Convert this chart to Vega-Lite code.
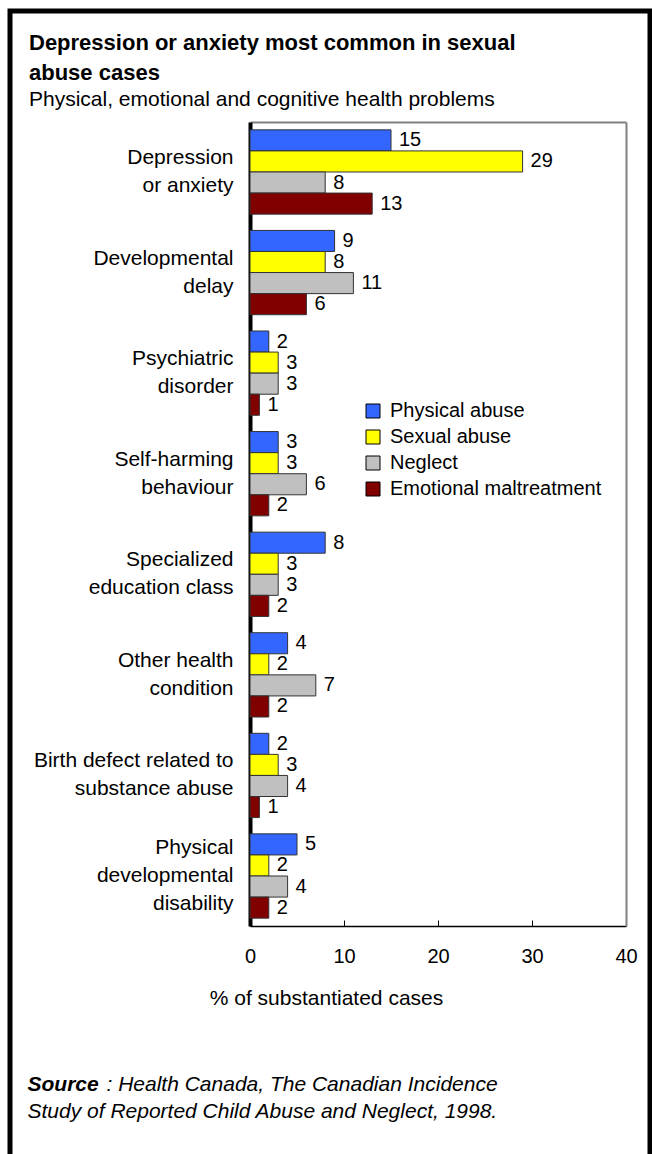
{
  "$schema": "https://vega.github.io/schema/vega-lite/v6.json",
  "width": 640,
  "height": 1150,
  "autosize": {"type": "none"},
  "padding": {"left": 10, "top": 11, "right": 2, "bottom": 0},
  "background": "white",
  "config": {
    "font": "Liberation Sans",
    "view": {"stroke": "black", "strokeWidth": 5}
  },
  "title": {
    "text": ["Depression or anxiety most common in sexual", "abuse cases"],
    "subtitle": "Physical, emotional and cognitive health problems",
    "anchor": "start",
    "frame": "group",
    "offset": -100,
    "dx": 19,
    "fontSize": 22,
    "fontWeight": "bold",
    "lineHeight": 30,
    "color": "black",
    "subtitleFontSize": 21,
    "subtitleColor": "black",
    "subtitlePadding": 4
  },
  "data": {
    "values": [
      {"problem": "Depression|or anxiety", "type": "Physical abuse", "pct": 15},
      {"problem": "Depression|or anxiety", "type": "Sexual abuse", "pct": 29},
      {"problem": "Depression|or anxiety", "type": "Neglect", "pct": 8},
      {"problem": "Depression|or anxiety", "type": "Emotional maltreatment", "pct": 13},
      {"problem": "Developmental|delay", "type": "Physical abuse", "pct": 9},
      {"problem": "Developmental|delay", "type": "Sexual abuse", "pct": 8},
      {"problem": "Developmental|delay", "type": "Neglect", "pct": 11},
      {"problem": "Developmental|delay", "type": "Emotional maltreatment", "pct": 6},
      {"problem": "Psychiatric|disorder", "type": "Physical abuse", "pct": 2},
      {"problem": "Psychiatric|disorder", "type": "Sexual abuse", "pct": 3},
      {"problem": "Psychiatric|disorder", "type": "Neglect", "pct": 3},
      {"problem": "Psychiatric|disorder", "type": "Emotional maltreatment", "pct": 1},
      {"problem": "Self-harming|behaviour", "type": "Physical abuse", "pct": 3},
      {"problem": "Self-harming|behaviour", "type": "Sexual abuse", "pct": 3},
      {"problem": "Self-harming|behaviour", "type": "Neglect", "pct": 6},
      {"problem": "Self-harming|behaviour", "type": "Emotional maltreatment", "pct": 2},
      {"problem": "Specialized|education class", "type": "Physical abuse", "pct": 8},
      {"problem": "Specialized|education class", "type": "Sexual abuse", "pct": 3},
      {"problem": "Specialized|education class", "type": "Neglect", "pct": 3},
      {"problem": "Specialized|education class", "type": "Emotional maltreatment", "pct": 2},
      {"problem": "Other health|condition", "type": "Physical abuse", "pct": 4},
      {"problem": "Other health|condition", "type": "Sexual abuse", "pct": 2},
      {"problem": "Other health|condition", "type": "Neglect", "pct": 7},
      {"problem": "Other health|condition", "type": "Emotional maltreatment", "pct": 2},
      {"problem": "Birth defect related to|substance abuse", "type": "Physical abuse", "pct": 2},
      {"problem": "Birth defect related to|substance abuse", "type": "Sexual abuse", "pct": 3},
      {"problem": "Birth defect related to|substance abuse", "type": "Neglect", "pct": 4},
      {"problem": "Birth defect related to|substance abuse", "type": "Emotional maltreatment", "pct": 1},
      {"problem": "Physical|developmental|disability", "type": "Physical abuse", "pct": 5},
      {"problem": "Physical|developmental|disability", "type": "Sexual abuse", "pct": 2},
      {"problem": "Physical|developmental|disability", "type": "Neglect", "pct": 4},
      {"problem": "Physical|developmental|disability", "type": "Emotional maltreatment", "pct": 2}
    ]
  },
  "layer": [
    {
      "mark": {"type": "bar", "stroke": "#333333", "strokeWidth": 1},
      "encoding": {
        "y": {
          "field": "problem", "type": "nominal", "sort": null,
          "scale": {"range": [111, 915], "paddingInner": 0.162, "paddingOuter": 0.078},
          "axis": {
            "orient": "left", "offset": -240,
            "domainColor": "black", "domainWidth": 4,
            "ticks": false,
            "labelExpr": "split(datum.label, '|')",
            "labelFontSize": 21, "labelColor": "black", "labelLineHeight": 28,
            "labelPadding": 17, "labelLimit": 300, "labelAlign": "right", "labelBaseline": "middle",
            "labelOffset": {"condition": {"test": "datum.value === 'Physical|developmental|disability'", "value": -28}, "value": -14},
            "title": "Study of Reported Child Abuse and Neglect, 1998.",
            "titleAngle": 0, "titleX": -223, "titleY": 1100, "titleAlign": "left", "titleBaseline": "middle",
            "titleFontStyle": "italic", "titleFontWeight": "normal", "titleFontSize": 21, "titleColor": "black"
          }
        },
        "yOffset": {
          "field": "type", "type": "nominal",
          "sort": ["Physical abuse", "Sexual abuse", "Neglect", "Emotional maltreatment"],
          "scale": {"paddingInner": 0, "paddingOuter": 0}
        },
        "x": {
          "field": "pct", "type": "quantitative",
          "scale": {"domain": [0, 40], "range": [240, 616], "nice": false},
          "axis": {
            "orient": "bottom", "offset": -235,
            "values": [0, 10, 20, 30, 40],
            "domainColor": "black", "domainWidth": 1.5,
            "tickColor": "black", "tickSize": -6, "tickWidth": 1,
            "labelFontSize": 20, "labelColor": "black", "labelPadding": 26, "labelFlush": false,
            "grid": false,
            "title": "% of substantiated cases",
            "titleX": 316, "titleY": 72, "titleAlign": "center", "titleBaseline": "middle",
            "titleFontSize": 21, "titleFontWeight": "normal", "titleColor": "black"
          }
        },
        "color": {
          "field": "type", "type": "nominal",
          "scale": {
            "domain": ["Physical abuse", "Sexual abuse", "Neglect", "Emotional maltreatment"],
            "range": ["#3366FF", "#FFFF00", "#C0C0C0", "#800000"]
          },
          "legend": {
            "orient": "none", "legendX": 353, "legendY": 390,
            "title": null, "padding": 0,
            "symbolType": "square", "symbolSize": 196,
            "symbolStrokeColor": "black", "symbolStrokeWidth": 1,
            "labelFontSize": 20, "labelColor": "black", "labelOffset": 7,
            "rowPadding": 6, "labelLimit": 300
          }
        }
      }
    },
    {
      "mark": {"type": "text", "align": "left", "baseline": "middle", "dx": 8, "fontSize": 20, "color": "black"},
      "encoding": {
        "y": {
          "field": "problem", "type": "nominal", "sort": null,
          "axis": {
            "orient": "right", "offset": -24,
            "domainColor": "#808080", "domainWidth": 2,
            "ticks": false, "labels": false,
            "title": ": Health Canada, The Canadian Incidence",
            "titleAngle": 0, "titleX": -520, "titleY": 1073, "titleAlign": "left", "titleBaseline": "middle",
            "titleFontStyle": "italic", "titleFontWeight": "normal", "titleFontSize": 21, "titleColor": "black"
          }
        },
        "yOffset": {
          "field": "type", "type": "nominal",
          "sort": ["Physical abuse", "Sexual abuse", "Neglect", "Emotional maltreatment"]
        },
        "x": {
          "field": "pct", "type": "quantitative",
          "axis": {
            "orient": "top", "offset": -111,
            "domainColor": "#808080", "domainWidth": 2,
            "ticks": false, "labels": false, "grid": false,
            "title": "Source",
            "titleX": 17, "titleY": 962, "titleAlign": "left", "titleBaseline": "middle",
            "titleFontStyle": "italic", "titleFontWeight": "bold", "titleFontSize": 21, "titleColor": "black"
          }
        },
        "text": {"field": "pct", "type": "quantitative"}
      }
    }
  ],
  "resolve": {"axis": {"x": "independent", "y": "independent"}}
}
